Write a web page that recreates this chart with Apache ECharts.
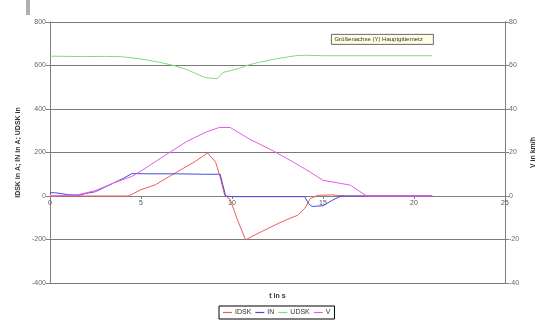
<!DOCTYPE html>
<html>
<head>
<meta charset="utf-8">
<script src="https://cdn.jsdelivr.net/npm/echarts@6/dist/echarts.min.js"></script>
<style>html,body{margin:0;padding:0;background:#fff;}#c{width:540px;height:322px;}</style>
</head>
<body>
<div id="c"></div>
<script>
// time stamps (s) and values per series
const tIDSK = [0, 4.3, 4.6, 5.0, 5.8, 6.5, 7.3, 8.0, 8.65, 9.1, 9.35, 9.6, 9.9, 10.3, 10.75, 11.0, 11.6, 12.2, 12.7, 13.2, 13.6, 14.0, 14.3, 14.7, 15.5, 16.2, 21];
const vIDSK = [0, 0, 12, 29, 52, 87, 126, 160, 198, 156, 87, 3, -15, -110, -202, -190, -165, -140, -120, -102, -89, -57, -12, 3, 5, 0, 0];

const tIN = [0, 0.3, 1.0, 1.6, 2.0, 2.5, 3.0, 3.5, 4.0, 4.5, 5.5, 7.0, 8.5, 9.35, 9.5, 9.65, 10.0, 12.0, 14.0, 14.2, 14.4, 15.0, 15.5, 16.0, 21];
const vIN = [15, 15, 6, 4, 12, 20, 40, 60, 80, 103, 102, 102, 100, 100, 50, 0, -3, -3, -3, -35, -48, -45, -20, 0, 0];

const tUDSK = [0, 1, 2, 3, 4, 5, 6, 6.8, 7.5, 8.5, 9.0, 9.2, 9.5, 10.0, 10.5, 10.8, 11.5, 12.5, 13.5, 14, 15, 17, 19, 21];
const vUDSK = [643, 642, 641, 642, 640, 630, 615, 600, 582, 545, 540, 540, 568, 578, 590, 600, 615, 632, 645, 647, 645, 645, 645, 645];

const tV = [0, 1.5, 2.5, 3.5, 4.5, 5.0, 6.1, 7.5, 8.6, 9.3, 9.9, 11.0, 12.2, 13.2, 14.3, 15.0, 15.5, 16.5, 17.4, 21];
const vV = [0, 0.5, 2.5, 6, 9, 11.5, 17.5, 25, 29.5, 31.5, 31.5, 26, 21, 16.4, 11, 7.2, 6.5, 5, 0, 0];

const seriesNames = ['IDSK', 'IN', 'UDSK', 'V'];
const xTicks = [0, 5, 10, 15, 20, 25];

function pairs(t, v) { return t.map((x, i) => [x, v[i]]); }

const chart = echarts.init(document.getElementById('c'), null, {renderer: 'canvas'});
const font = 'Liberation Sans, Arial, sans-serif';
const axisGray = '#808080';
chart.setOption({
  animation: false,
  textStyle: {fontFamily: font},
  grid: {left: 50, right: 35, top: 22, bottom: 39, containLabel: false, outerBoundsMode: 'none'},
  legend: {
    data: seriesNames,
    left: 219, bottom: 3,
    icon: 'rect', itemWidth: 9, itemHeight: 1.2, itemGap: 4,
    padding: [3, 4],
    borderColor: '#000', borderWidth: 1,
    textStyle: {fontSize: 7, color: '#333', fontFamily: font, padding: [0, 0, 0, -2]}
  },
  xAxis: {
    type: 'value', min: 0, max: 25, interval: 5,
    position: 'bottom', offset: -87,
    axisLine: {onZero: false, lineStyle: {color: axisGray, width: 1}},
    axisTick: {show: true, length: 3, lineStyle: {color: axisGray}},
    axisLabel: {fontSize: 7, color: '#555', margin: 4, formatter: v => xTicks.includes(v) ? String(v) : ''},
    splitLine: {show: false},
    name: 't in s', nameLocation: 'middle', nameGap: 97,
    nameTextStyle: {fontSize: 7, fontWeight: 'bold', color: '#333'}
  },
  yAxis: [{
    type: 'value', min: -400, max: 800, interval: 200,
    axisLine: {show: true, onZero: false, lineStyle: {color: axisGray}},
    axisTick: {show: true, length: 4, lineStyle: {color: axisGray}},
    axisLabel: {fontSize: 7, color: '#666', margin: 4},
    splitLine: {show: true, lineStyle: {color: '#7a7a7a', width: 1}},
    name: 'IDSK in A; IN in A; UDSK in', nameLocation: 'middle', nameRotate: 90, nameGap: 26,
    nameTextStyle: {fontSize: 7, fontWeight: 'bold', color: '#333'}
  }, {
    type: 'value', min: -40, max: 80, interval: 20, position: 'right',
    axisLine: {show: true, onZero: false, lineStyle: {color: axisGray}},
    axisTick: {show: true, length: 4, lineStyle: {color: axisGray}},
    axisLabel: {fontSize: 7, color: '#666', margin: 4},
    splitLine: {show: false},
    name: 'V in km/h', nameLocation: 'middle', nameRotate: 90, nameGap: 17,
    nameTextStyle: {fontSize: 7, fontWeight: 'bold', color: '#333'}
  }],
  series: [
    {name: 'IDSK', type: 'line', yAxisIndex: 0, data: pairs(tIDSK, vIDSK), symbol: 'none', lineStyle: {color: '#ee5a5a', width: 1}, itemStyle: {color: '#ee5a5a'}},
    {name: 'IN', type: 'line', yAxisIndex: 0, data: pairs(tIN, vIN), symbol: 'none', lineStyle: {color: '#4a4ae0', width: 1}, itemStyle: {color: '#4a4ae0'}},
    {name: 'UDSK', type: 'line', yAxisIndex: 0, data: pairs(tUDSK, vUDSK), symbol: 'none', lineStyle: {color: '#7ddc7d', width: 1}, itemStyle: {color: '#7ddc7d'}},
    {name: 'V', type: 'line', yAxisIndex: 1, data: pairs(tV, vV), symbol: 'none', lineStyle: {color: '#e85ae8', width: 1}, itemStyle: {color: '#e85ae8'}}
  ],
  graphic: [
    {type: 'rect', left: 26, top: 0, shape: {width: 4, height: 15}, style: {fill: '#b0b0b0'}},
    {type: 'group', left: 331, top: 34, children: [
      {type: 'rect', shape: {x: 0, y: 0, width: 102, height: 10}, style: {fill: '#ffffe6', stroke: '#444', lineWidth: 0.8}},
      {type: 'text', left: 3, top: 2, style: {text: 'Größenachse (Y) Hauptgitternetz', fontSize: 6, fill: '#333', fontFamily: font}}
    ]}
  ]
});
</script>
</body>
</html>
